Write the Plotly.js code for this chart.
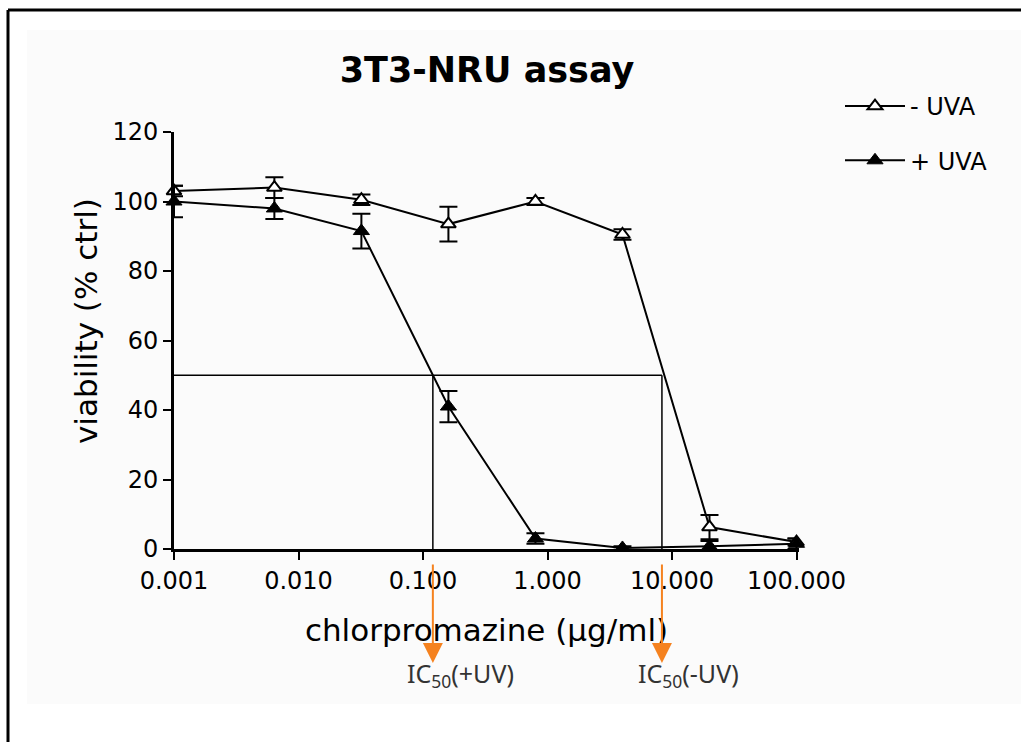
<!DOCTYPE html>
<html>
<head>
<meta charset="utf-8">
<script src="https://cdn.plot.ly/plotly-3.0.1.min.js"></script>
<style>html,body{margin:0;padding:0;background:#fff;}#chart{width:1021px;height:742px;}</style>
</head>
<body>
<div id="chart"></div>
<script>
// ---- data ----
const concentrations = [0.001, 0.0064, 0.032, 0.16, 0.8, 4, 20, 100];
const minusUVA = [103, 104, 100.5, 93.5, 100, 90.5, 6.3, 2];
const minusUVAErr = [1.5, 3, 1.5, 5, 1, 1.5, 3.5, 1];
const plusUVA = [100, 98, 91.5, 41, 3, 0.3, 0.8, 1.5];
const plusUVAErr = [4.5, 3, 5, 4.5, 1.5, 0.5, 1.5, 1.5];
const ic50Plus = 0.12;
const ic50Minus = 8.3;
const ic50Level = 50;
const xTickVals = [0.001, 0.01, 0.1, 1, 10, 100];
const xTickText = ["0.001", "0.010", "0.100", "1.000", "10.000", "100.000"];
const yTickVals = [0, 20, 40, 60, 80, 100, 120];
const seriesNames = ["- UVA", "+ UVA"];

// ---- layout geometry (pixels) ----
const W = 1021, H = 742;
const L = 174, R = 799, T = 132, B = 549;
const px2x = p => (p - L) / (R - L);
const py2y = p => (B - p) / (B - T);

const tickFont = {family: "DejaVu Sans", size: 24, color: "#000"};

const traces = [
  {
    x: [concentrations[0], ic50Minus, null, ic50Plus, ic50Plus, null, ic50Minus, ic50Minus],
    y: [ic50Level, ic50Level, null, ic50Level, 0, null, ic50Level, 0],
    mode: "lines", line: {color: "#000", width: 1.5},
    showlegend: false, hoverinfo: "skip", cliponaxis: false
  },
  {
    name: seriesNames[0], legendgroup: "a", x: concentrations, y: minusUVA,
    mode: "lines+markers",
    line: {color: "#000", width: 2},
    marker: {symbol: "triangle-up", size: 13, color: "#fff", line: {color: "#000", width: 2}},
    error_y: {type: "data", array: minusUVAErr, visible: true, color: "#000", thickness: 2, width: 9},
    cliponaxis: false
  },
  {
    name: seriesNames[1], legendgroup: "b", x: concentrations, y: plusUVA,
    mode: "lines+markers",
    line: {color: "#000", width: 2},
    marker: {symbol: "triangle-up", size: 14, color: "#000", line: {color: "#000", width: 1}},
    error_y: {type: "data", array: plusUVAErr, visible: true, color: "#000", thickness: 2, width: 9},
    cliponaxis: false
  }
];

const orange = "#f5821f";
const layout = {
  width: W, height: H,
  margin: {l: L, r: W - R, t: T, b: H - B},
  paper_bgcolor: "#fff", plot_bgcolor: "rgba(0,0,0,0)",
  title: {text: "3T3-NRU assay", font: {family: "DejaVu Sans", size: 35, color: "#000", weight: "bold"},
          x: px2x(487), xref: "paper", xanchor: "center", y: 1 - 70 / H, yref: "container", yanchor: "middle"},
  xaxis: {
    type: "log", range: [-3, Math.log10(100) + 0.02],
    tickvals: xTickVals, ticktext: xTickText, tickfont: tickFont,
    ticks: "outside", ticklen: 8, tickwidth: 2, tickcolor: "#000",
    showline: true, linecolor: "#000", linewidth: 3, showgrid: false, zeroline: false,
    title: {text: "chlorpromazine (μg/ml)", font: {family: "DejaVu Sans", size: 31, color: "#000"}, standoff: 26}
  },
  yaxis: {
    range: [0, 120], tickvals: yTickVals, tickfont: tickFont,
    ticks: "outside", ticklen: 8, tickwidth: 2, tickcolor: "#000",
    showline: true, linecolor: "#000", linewidth: 3, showgrid: false, zeroline: false
  },
  legend: {
    x: px2x(840), y: py2y(84), xanchor: "left", yanchor: "top",
    font: {family: "DejaVu Sans", size: 24, color: "#000"},
    bgcolor: "rgba(0,0,0,0)", tracegroupgap: 20, itemwidth: 60, traceorder: "grouped"
  },
  shapes: [
    {type: "rect", xref: "paper", yref: "paper", x0: px2x(27), x1: px2x(1021), y0: py2y(30), y1: py2y(704),
     fillcolor: "#fbfbfb", line: {width: 0}, layer: "below"},
    {type: "line", xref: "paper", yref: "paper", x0: px2x(8), x1: px2x(1021), y0: py2y(10), y1: py2y(10),
     line: {color: "#000", width: 3}},
    {type: "line", xref: "paper", yref: "paper", x0: px2x(8), x1: px2x(8), y0: py2y(10), y1: py2y(742),
     line: {color: "#000", width: 3}}
  ],
  annotations: [
    {x: px2x(86), xref: "paper", y: py2y(321), yref: "paper", xanchor: "center", yanchor: "middle", showarrow: false,
     textangle: -90, text: "viability (% ctrl)", font: {family: "DejaVu Sans", size: 31, color: "#000"}},
    {x: Math.log10(ic50Plus), xref: "x", y: py2y(663), yref: "paper", ax: 0, ay: -100, axref: "pixel", ayref: "pixel",
     text: "", showarrow: true, arrowhead: 2, arrowsize: 2, arrowwidth: 2, arrowcolor: orange, standoff: 0, startstandoff: 0},
    {x: Math.log10(ic50Minus), xref: "x", y: py2y(663), yref: "paper", ax: 0, ay: -100, axref: "pixel", ayref: "pixel",
     text: "", showarrow: true, arrowhead: 2, arrowsize: 2, arrowwidth: 2, arrowcolor: orange, standoff: 0, startstandoff: 0},
    {x: px2x(460), xref: "paper", y: py2y(674), yref: "paper", xanchor: "center", yanchor: "middle", showarrow: false,
     text: "IC<sub>50</sub>(+UV)", font: {family: "Noto Sans", size: 25, color: "#333"}},
    {x: px2x(688), xref: "paper", y: py2y(674), yref: "paper", xanchor: "center", yanchor: "middle", showarrow: false,
     text: "IC<sub>50</sub>(-UV)", font: {family: "Noto Sans", size: 25, color: "#333"}}
  ]
};

Plotly.newPlot("chart", traces, layout, {displayModeBar: false, staticPlot: true});
</script>
</body>
</html>
